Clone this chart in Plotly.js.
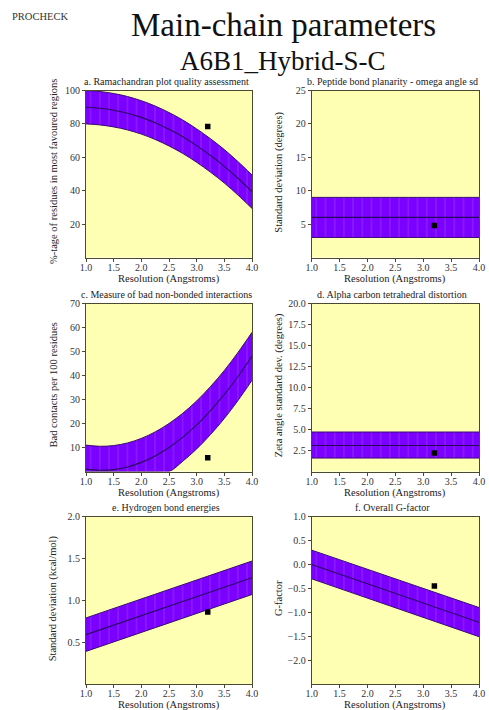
<!DOCTYPE html>
<html>
<head>
<meta charset="utf-8">
<script src="https://cdn.plot.ly/plotly-3.0.1.min.js"></script>
<style>html,body{margin:0;padding:0;background:#fff}#chart{width:489px;height:710px}</style>
</head>
<body>
<div id="chart"></div>
<script>
// ---------------- data ----------------
const resGrid = [1.0, 1.25, 1.5, 1.75, 2.0, 2.25, 2.5, 2.75, 3.0, 3.25, 3.5, 3.75, 4.0];
const resEnds = [1.0, 4.0];

// a. Ramachandran plot quality assessment
const ramaMid   = [90.0, 89.4, 88.2, 86.4, 83.9, 80.7, 76.8, 72.3, 67.0, 61.1, 54.6, 47.3, 39.4];
const ramaUpper = [100.0, 99.4, 98.2, 96.4, 93.9, 90.7, 86.8, 82.3, 77.0, 71.1, 64.6, 57.3, 49.4];
const ramaLower = [80.0, 79.4, 78.2, 76.4, 73.9, 70.7, 66.8, 62.3, 57.0, 51.1, 44.6, 37.3, 29.4];
const ramaPoint = [3.2, 78.4];

// b. Peptide bond planarity - omega angle sd
const omegaMid = [6.0, 6.0], omegaUpper = [9.0, 9.0], omegaLower = [3.0, 3.0];
const omegaPoint = [3.2, 4.8];

// c. Measure of bad non-bonded interactions
const badMid   = [1.0, 0.5, 0.8, 1.9, 3.8, 6.5, 10.0, 14.3, 19.4, 25.4, 32.1, 39.7, 48.0];
const badUpper = [11.0, 10.5, 10.8, 11.9, 13.8, 16.5, 20.0, 24.3, 29.4, 35.4, 42.1, 49.7, 58.0];
const badLower = [0, 0, 0, 0, 0, 0, 0, 4.3, 9.4, 15.4, 22.1, 29.7, 38.0];
const badPoint = [3.2, 5.7];

// d. Alpha carbon tetrahedral distortion
const zetaMid = [3.1, 3.1], zetaUpper = [4.7, 4.7], zetaLower = [1.6, 1.6];
const zetaPoint = [3.2, 2.2];

// e. Hydrogen bond energies
const hbMid = [0.59, 1.27], hbUpper = [0.79, 1.47], hbLower = [0.39, 1.07];
const hbPoint = [3.2, 0.86];

// f. Overall G-factor
const gMid = [0.0, -1.21], gUpper = [0.30, -0.90], gLower = [-0.30, -1.51];
const gPoint = [3.2, -0.45];

const xTicks = [1.0, 1.5, 2.0, 2.5, 3.0, 3.5, 4.0];
const panelTitles = [
  "a. Ramachandran plot quality assessment",
  "b. Peptide bond planarity - omega angle sd",
  "c. Measure of bad non-bonded interactions",
  "d. Alpha carbon tetrahedral distortion",
  "e. Hydrogen bond energies",
  "f. Overall G-factor"
];
const yTitles = [
  "%-tage of residues in most favoured regions",
  "Standard deviation (degrees)",
  "Bad contacts per 100 residues",
  "Zeta angle standard dev. (degrees)",
  "Standard deviation (kcal/mol)",
  "G-factor"
];
const yRanges = [[0,100],[0,25],[0,70],[0,20],[0,2],[-2.5,1]];
const yTickVals = [
  [20,40,60,80,100],
  [5,10,15,20,25],
  [10,20,30,40,50,60,70],
  [2.5,5,7.5,10,12.5,15,17.5,20],
  [0.5,1.0,1.5,2.0],
  [-2.0,-1.5,-1.0,-0.5,0.0,0.5,1.0]
];
const yTickFmt = ["d","d","d",".1f",".1f",".1f"];

const panels = [
  {x: resGrid, mid: ramaMid,  up: ramaUpper,  lo: ramaLower,  pt: ramaPoint},
  {x: resEnds, mid: omegaMid, up: omegaUpper, lo: omegaLower, pt: omegaPoint},
  {x: resGrid, mid: badMid,   up: badUpper,   lo: badLower,   pt: badPoint},
  {x: resEnds, mid: zetaMid,  up: zetaUpper,  lo: zetaLower,  pt: zetaPoint},
  {x: resEnds, mid: hbMid,    up: hbUpper,    lo: hbLower,    pt: hbPoint},
  {x: resEnds, mid: gMid,     up: gUpper,     lo: gLower,     pt: gPoint}
];

// ---------------- layout geometry (pixels) ----------------
const W = 489, H = 710;
const colX = [[86, 252], [311.7, 479]];
const rowY = [[90.5, 257.5], [303.5, 471.5], [516.7, 684]];
const px = v => v / W, py = v => 1 - v / H;

const FONT = "Liberation Serif, Times New Roman, serif";
const BAND = "#7b00ff", EDGE = "#3a0a78", MIDC = "#2a0860";

const traces = [];
const layout = {
  width: W, height: H,
  margin: {l:0, r:0, t:0, b:0},
  paper_bgcolor: "#ffffff",
  plot_bgcolor: "#ffffb3",
  showlegend: false,
  font: {family: FONT, color: "#333"},
  annotations: []
};

panels.forEach((p, i) => {
  const col = i % 2, row = Math.floor(i / 2);
  const n = i + 1;
  const xa = n === 1 ? "x" : "x" + n, ya = n === 1 ? "y" : "y" + n;
  const line = p.x.length > 2 ? "spline" : "linear";
  traces.push({x: p.x, y: p.lo, xaxis: xa, yaxis: ya, mode: "lines",
    line: {color: EDGE, width: 1, shape: line}, hoverinfo: "skip"});
  traces.push({x: p.x, y: p.up, xaxis: xa, yaxis: ya, mode: "lines", fill: "tonexty",
    fillcolor: BAND,
    fillpattern: {shape: "|", bgcolor: BAND, fgcolor: "#b98aff", fgopacity: 0.45, size: 9.2, solidity: 0.08},
    line: {color: EDGE, width: 1, shape: line}, hoverinfo: "skip"});
  traces.push({x: p.x, y: p.mid, xaxis: xa, yaxis: ya, mode: "lines",
    line: {color: MIDC, width: 1.1, shape: line}, hoverinfo: "skip"});
  traces.push({x: [p.pt[0]], y: [p.pt[1]], xaxis: xa, yaxis: ya, mode: "markers",
    marker: {symbol: "square", size: 5.5, color: "#000"}});

  const axCommon = {
    showline: true, mirror: true, linecolor: "#4a4a30", linewidth: 1,
    ticks: "outside", ticklen: 3, tickcolor: "#4a4a30", tickwidth: 1,
    showgrid: false, zeroline: false, fixedrange: true,
    tickfont: {family: FONT, size: 10, color: "#333"}
  };
  layout[n === 1 ? "xaxis" : "xaxis" + n] = Object.assign({}, axCommon, {
    domain: [px(colX[col][0]), px(colX[col][1])], anchor: ya,
    range: [1, 4], tickvals: xTicks, tickformat: ".1f", ticklabelstandoff: -3
  });
  layout[n === 1 ? "yaxis" : "yaxis" + n] = Object.assign({}, axCommon, {
    domain: [py(rowY[row][1]), py(rowY[row][0])], anchor: xa,
    range: yRanges[i], tickvals: yTickVals[i], tickformat: yTickFmt[i]
  });

  const cx = (colX[col][0] + colX[col][1]) / 2;
  const cy = (rowY[row][0] + rowY[row][1]) / 2;
  layout.annotations.push({text: panelTitles[i], xref: "paper", yref: "paper",
    x: px(cx - 3), y: py(rowY[row][0] - 9), xanchor: "center", yanchor: "middle",
    showarrow: false, font: {family: FONT, size: 10, color: "#222"}});
  layout.annotations.push({text: "Resolution (Angstroms)", xref: "paper", yref: "paper",
    x: px(cx), y: py(rowY[row][1] + 21), xanchor: "center", yanchor: "middle",
    showarrow: false, font: {family: FONT, size: 10.5, color: "#222"}});
  layout.annotations.push({text: yTitles[i], xref: "paper", yref: "paper", textangle: -90,
    x: px(colX[col][0] - 33), y: py(cy - 2), xanchor: "center", yanchor: "middle",
    showarrow: false, font: {family: FONT, size: 10.5, color: "#222"}});
});

layout.annotations.push({text: "PROCHECK", xref: "paper", yref: "paper",
  x: px(10), y: py(17), xanchor: "left", yanchor: "middle", showarrow: false,
  font: {family: FONT, size: 10.5, color: "#333"}});
layout.annotations.push({text: "Main-chain parameters", xref: "paper", yref: "paper",
  x: px(283), y: py(25), xanchor: "center", yanchor: "middle", showarrow: false,
  font: {family: FONT, size: 33, color: "#111"}});
layout.annotations.push({text: "A6B1_Hybrid-S-C", xref: "paper", yref: "paper",
  x: px(283), y: py(61), xanchor: "center", yanchor: "middle", showarrow: false,
  font: {family: FONT, size: 27, color: "#111"}});

Plotly.newPlot("chart", traces, layout, {displayModeBar: false, staticPlot: true});
</script>
</body>
</html>
